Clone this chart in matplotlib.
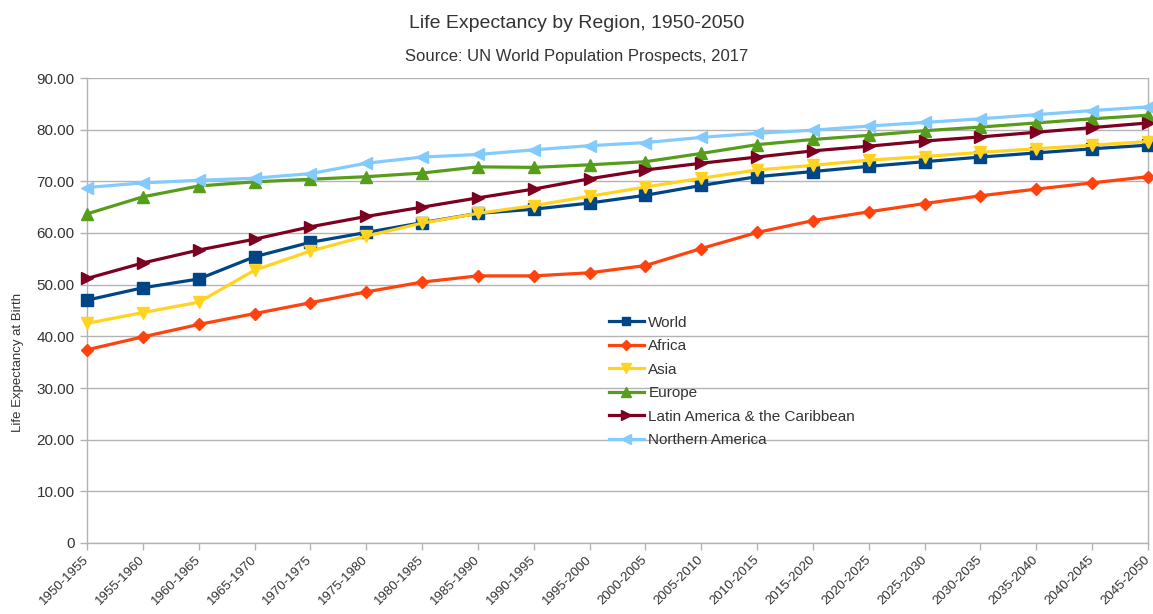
import matplotlib
matplotlib.use('Agg')
from matplotlib import pyplot as plt

plt.rcParams['font.family'] = ['Liberation Sans', 'DejaVu Sans']

# okresy pięcioletnie
periods = ['1950-1955', '1955-1960', '1960-1965', '1965-1970', '1970-1975',
           '1975-1980', '1980-1985', '1985-1990', '1990-1995', '1995-2000',
           '2000-2005', '2005-2010', '2010-2015', '2015-2020', '2020-2025',
           '2025-2030', '2030-2035', '2035-2040', '2040-2045', '2045-2050']

world = [47.0, 49.4, 51.1, 55.4, 58.2, 60.1, 62.0, 63.8, 64.6, 65.8,
         67.3, 69.2, 70.9, 71.9, 72.9, 73.8, 74.7, 75.5, 76.3, 77.0]
africa = [37.4, 39.9, 42.3, 44.4, 46.5, 48.6, 50.5, 51.7, 51.7, 52.3,
          53.7, 57.0, 60.1, 62.4, 64.1, 65.7, 67.2, 68.5, 69.7, 70.9]
asia = [42.5, 44.6, 46.6, 52.8, 56.5, 59.4, 61.9, 63.8, 65.3, 67.1,
        68.9, 70.6, 72.2, 73.1, 74.1, 74.8, 75.6, 76.3, 77.0, 77.7]
europe = [63.7, 67.0, 69.1, 69.9, 70.4, 70.9, 71.6, 72.8, 72.7, 73.2,
          73.8, 75.4, 77.1, 78.1, 78.9, 79.8, 80.5, 81.3, 82.1, 82.8]
latin_america = [51.2, 54.2, 56.7, 58.8, 61.2, 63.2, 65.0, 66.8, 68.5, 70.5,
                 72.2, 73.5, 74.7, 75.9, 76.8, 77.8, 78.6, 79.5, 80.4, 81.3]
north_america = [68.8, 69.7, 70.2, 70.6, 71.5, 73.5, 74.7, 75.2, 76.1, 76.9,
                 77.5, 78.5, 79.3, 79.9, 80.7, 81.4, 82.1, 82.9, 83.7, 84.4]

series = [
    ('World', world, '#004586', 's', 8.5),
    ('Africa', africa, '#ff420e', 'D', 6.5),
    ('Asia', asia, '#ffd320', 'v', 9),
    ('Europe', europe, '#579d1c', '^', 9),
    ('Latin America & the Caribbean', latin_america, '#7e0021', '>', 9),
    ('Northern America', north_america, '#83caff', '<', 9),
]

grey = '#b3b3b3'
text_col = '#333333'

fig = plt.figure(figsize=(11.53, 6.14), dpi=100)
ax = fig.add_axes([87 / 1153, 1 - 543 / 614, (1148 - 87) / 1153, (543 - 78) / 614])

x = list(range(len(periods)))
for name, vals, col, mk, ms in series:
    ax.plot(x, vals, color=col, lw=2.3, marker=mk, markersize=ms,
            label=name, clip_on=False, zorder=3)

ax.set_xlim(0, len(periods) - 1)
ax.set_ylim(0, 90)
ax.set_yticks(range(0, 91, 10))
ax.set_yticklabels(['0'] + [f'{v:.2f}' for v in range(10, 91, 10)])
ax.set_xticks(x)
ax.set_xticklabels(periods, rotation=45, ha='right', va='center',
                   rotation_mode='anchor', fontsize=9.5)

ax.grid(axis='y', color=grey, lw=1, zorder=0)
for side in ['left', 'bottom', 'right']:
    ax.spines[side].set_color(grey)
    ax.spines[side].set_linewidth(1)
ax.spines['top'].set_visible(False)
ax.tick_params(axis='both', colors=grey, labelcolor=text_col, length=5, width=1)
ax.tick_params(axis='y', labelsize=11, pad=4)
ax.tick_params(axis='x', pad=6)

fig.text(577 / 1153, 1 - 23 / 614, 'Life Expectancy by Region, 1950-2050',
         ha='center', va='center', fontsize=14, color=text_col)
fig.text(577 / 1153, 1 - 57 / 614, 'Source: UN World Population Prospects, 2017',
         ha='center', va='center', fontsize=12, color=text_col)
fig.text(18 / 1153, 1 - 362 / 614, 'Life Expectancy at Birth', rotation=90,
         ha='center', va='center', fontsize=9.5, color=text_col)

leg = ax.legend(loc='upper left', bbox_to_anchor=(601 / 1153, 1 - 308 / 614),
                bbox_transform=fig.transFigure, frameon=False, fontsize=11,
                borderpad=0, handlelength=2.3, handletextpad=0.3,
                labelspacing=0.62, markerscale=0.75)
for t in leg.get_texts():
    t.set_color(text_col)

fig.savefig('out.png', dpi=100)
